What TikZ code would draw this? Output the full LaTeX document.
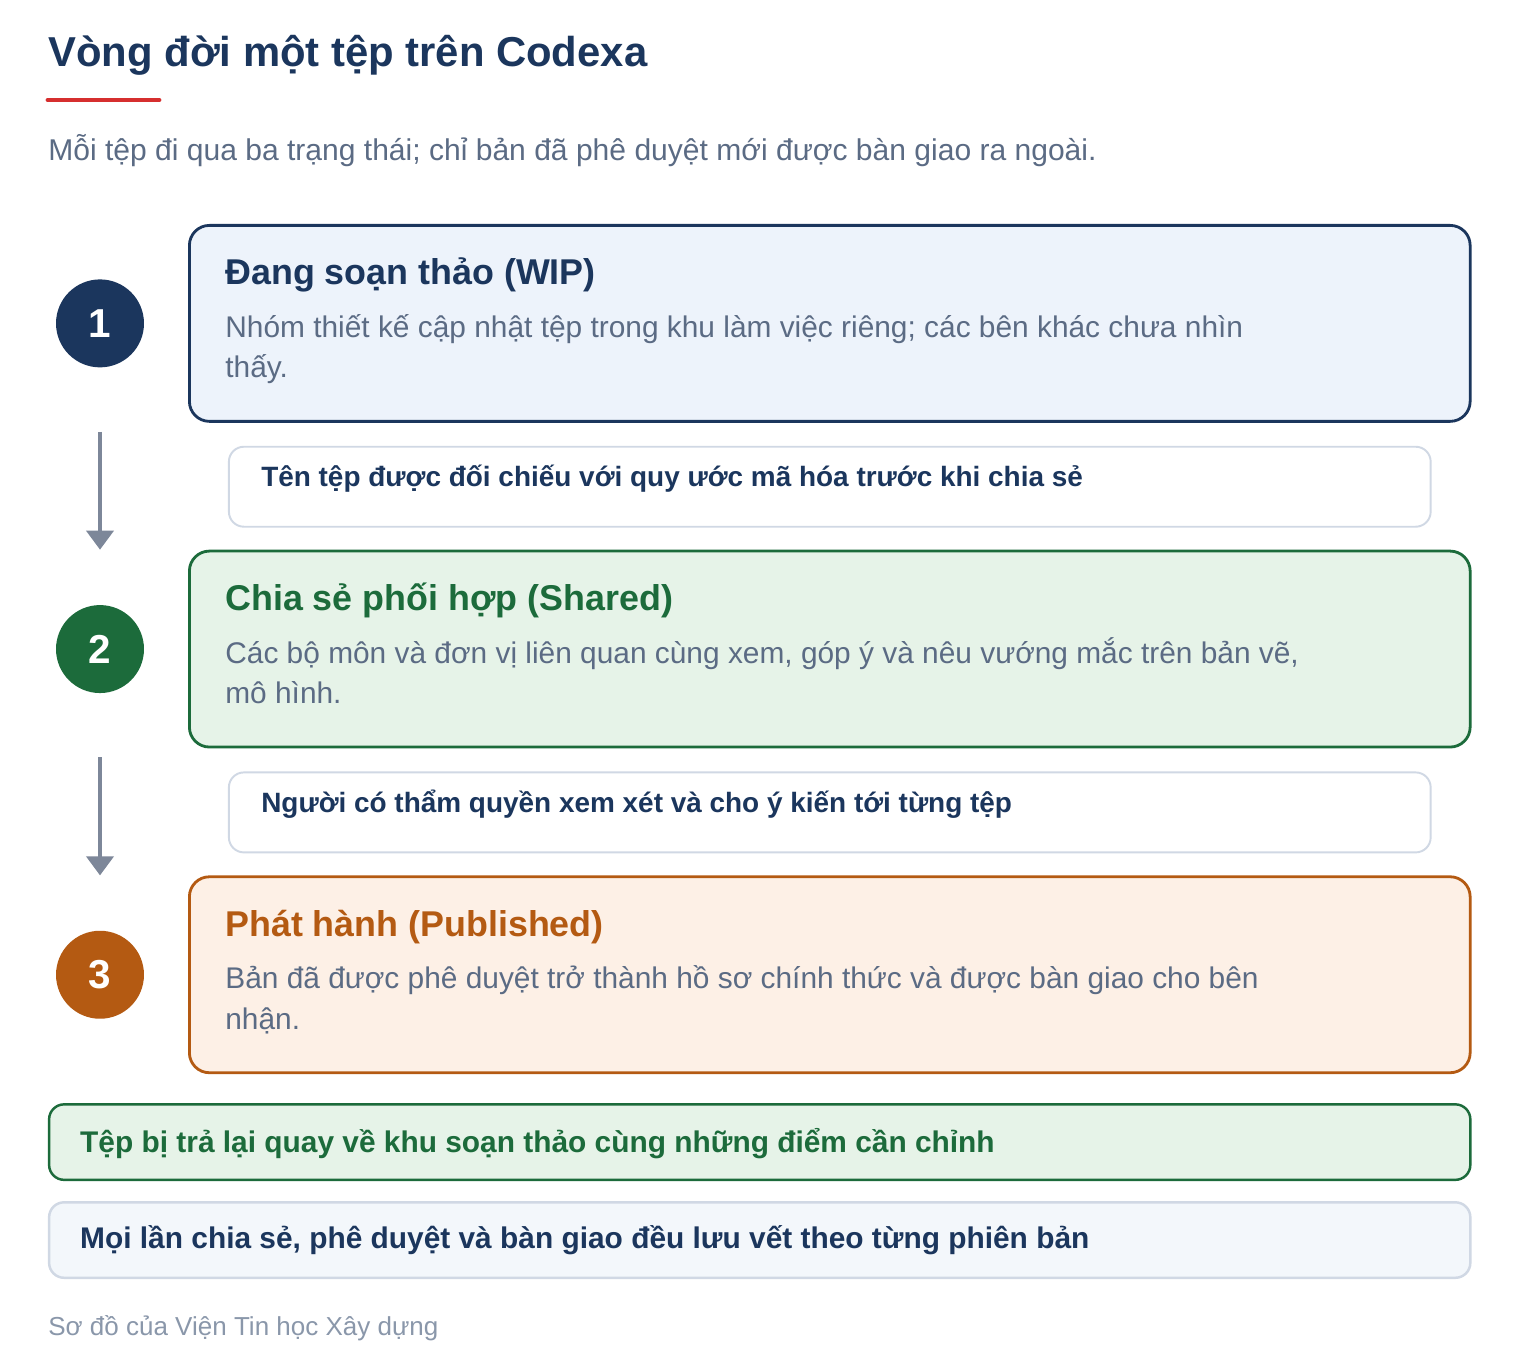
\documentclass[tikz,border=0pt]{standalone}
\usepackage{fontspec}
\setmainfont{Liberation Sans}
\usepackage{tikz}
\usetikzlibrary{positioning, calc, arrows.meta}
\definecolor{navy}{HTML}{1B365D}
\definecolor{leaf}{HTML}{1C6B3B}
\definecolor{leaffill}{HTML}{E6F3E8}
\definecolor{rust}{HTML}{B45A12}
\definecolor{rustfill}{HTML}{FDF0E6}
\definecolor{skyfill}{HTML}{EDF3FB}
\definecolor{mist}{HTML}{F3F7FB}
\definecolor{edgegray}{HTML}{D0D8E4}
\definecolor{slate}{HTML}{5B6B84}
\definecolor{ash}{HTML}{8A97AA}
\definecolor{steel}{HTML}{7D8799}
\definecolor{accent}{HTML}{D62F2F}
\tikzstyle{stage} = [rectangle, rounded corners=0.4cm, minimum width=25.62cm, minimum height=3.92cm, line width=1.6pt, inner sep=0pt]
\tikzstyle{note} = [rectangle, rounded corners=0.3cm, minimum width=24.04cm, minimum height=1.6cm, draw=edgegray, line width=1.1pt, fill=white, inner sep=0pt]
\tikzstyle{bar} = [rectangle, rounded corners=0.3cm, minimum width=28.43cm, minimum height=1.51cm, line width=1.4pt, inner sep=0pt]
\tikzstyle{badge} = [circle, minimum size=1.76cm, inner sep=0pt, text=white, font=\bfseries\fontsize{23}{23}\selectfont]
\tikzstyle{head} = [anchor=base west, inner sep=0pt, font=\bfseries\fontsize{20.4}{24}\selectfont]
\tikzstyle{body} = [anchor=base west, inner sep=0pt, align=left, text=slate, font=\fontsize{17}{23}\selectfont]
\tikzstyle{label} = [anchor=base west, inner sep=0pt, font=\bfseries\fontsize{15.9}{19}\selectfont]
\tikzstyle{arrow} = [line width=2.2pt, draw=steel, -{Triangle[width=0.54cm, length=0.38cm]}]

\begin{document}
\begin{tikzpicture}[x=0.02cm, y=-0.02cm]
    \fill[white] (0,0) rectangle (1520,1364);
    \useasboundingbox (0,0) rectangle (1520,1364);

    % Title
    \node (title) [anchor=base west, inner sep=0pt, text=navy, font=\bfseries\fontsize{23.8}{28}\selectfont] at (48,67) {Vòng đời một tệp trên Codexa};
    \draw [accent, line width=2.8pt, line cap=round] (48,100) -- (159,100);
    \node (sub) [anchor=base west, inner sep=0pt, text=slate, font=\fontsize{17.1}{20}\selectfont] at (48,161) {Mỗi tệp đi qua ba trạng thái; chỉ bản đã phê duyệt mới được bàn giao ra ngoài.};

    % Stages
    \node (wip) [stage, anchor=north west, draw=navy, fill=skyfill] at (188,224) {};
    \node (n1) [note, below=0.46cm of wip] {};
    \node (shared) [stage, below=0.44cm of n1, draw=leaf, fill=leaffill] {};
    \node (n2) [note, below=0.46cm of shared] {};
    \node (pub) [stage, below=0.44cm of n2, draw=rust, fill=rustfill] {};

    % Stage texts
    \node (wiph) [head, text=navy] at ($(wip.north west)+(37,61)$) {Đang soạn thảo (WIP)};
    \node (wipb) [body] at ($(wip.north west)+(37,154)$) {Nhóm thiết kế cập nhật tệp trong khu làm việc riêng; các bên khác chưa nhìn\\thấy.};
    \node (sharedh) [head, text=leaf] at ($(shared.north west)+(37,61)$) {Chia sẻ phối hợp (Shared)};
    \node (sharedb) [body] at ($(shared.north west)+(37,154)$) {Các bộ môn và đơn vị liên quan cùng xem, góp ý và nêu vướng mắc trên bản vẽ,\\mô hình.};
    \node (pubh) [head, text=rust] at ($(pub.north west)+(37,61)$) {Phát hành (Published)};
    \node (pubb) [body] at ($(pub.north west)+(37,154)$) {Bản đã được phê duyệt trở thành hồ sơ chính thức và được bàn giao cho bên\\nhận.};

    % Transition notes
    \node (n1t) [label, text=navy] at ($(n1.north west)+(33,41)$) {Tên tệp được đối chiếu với quy ước mã hóa trước khi chia sẻ};
    \node (n2t) [label, text=navy] at ($(n2.north west)+(33,41)$) {Người có thẩm quyền xem xét và cho ý kiến tới từng tệp};

    % Step badges
    \coordinate (rail) at (100,0);
    \node (s1) [badge, fill=navy] at (rail |- wip.west) {1};
    \node (s2) [badge, fill=leaf] at (rail |- shared.west) {2};
    \node (s3) [badge, fill=rust] at (rail |- pub.west) {3};

    % Arrows
    \draw [arrow] ([yshift=-0.18cm]rail |- wip.south) -- (rail |- shared.north);
    \draw [arrow] ([yshift=-0.18cm]rail |- shared.south) -- (rail |- pub.north);

    % Bottom bars
    \node (ret) [bar, below=0.58cm of pub.south east, anchor=north east, draw=leaf, fill=leaffill] {};
    \node (trace) [bar, below=0.4cm of ret, draw=edgegray, fill=mist] {};
    \node (rett) [label, text=leaf, font=\bfseries\fontsize{17}{20}\selectfont] at ($(ret.north west)+(32,49)$) {Tệp bị trả lại quay về khu soạn thảo cùng những điểm cần chỉnh};
    \node (tracet) [label, text=navy, font=\bfseries\fontsize{17}{20}\selectfont] at ($(trace.north west)+(32,47)$) {Mọi lần chia sẻ, phê duyệt và bàn giao đều lưu vết theo từng phiên bản};

    % Footer
    \node (foot) [anchor=base west, inner sep=0pt, text=ash, font=\fontsize{14.8}{17}\selectfont] at (48,1335) {Sơ đồ của Viện Tin học Xây dựng};
\end{tikzpicture}
\end{document}
